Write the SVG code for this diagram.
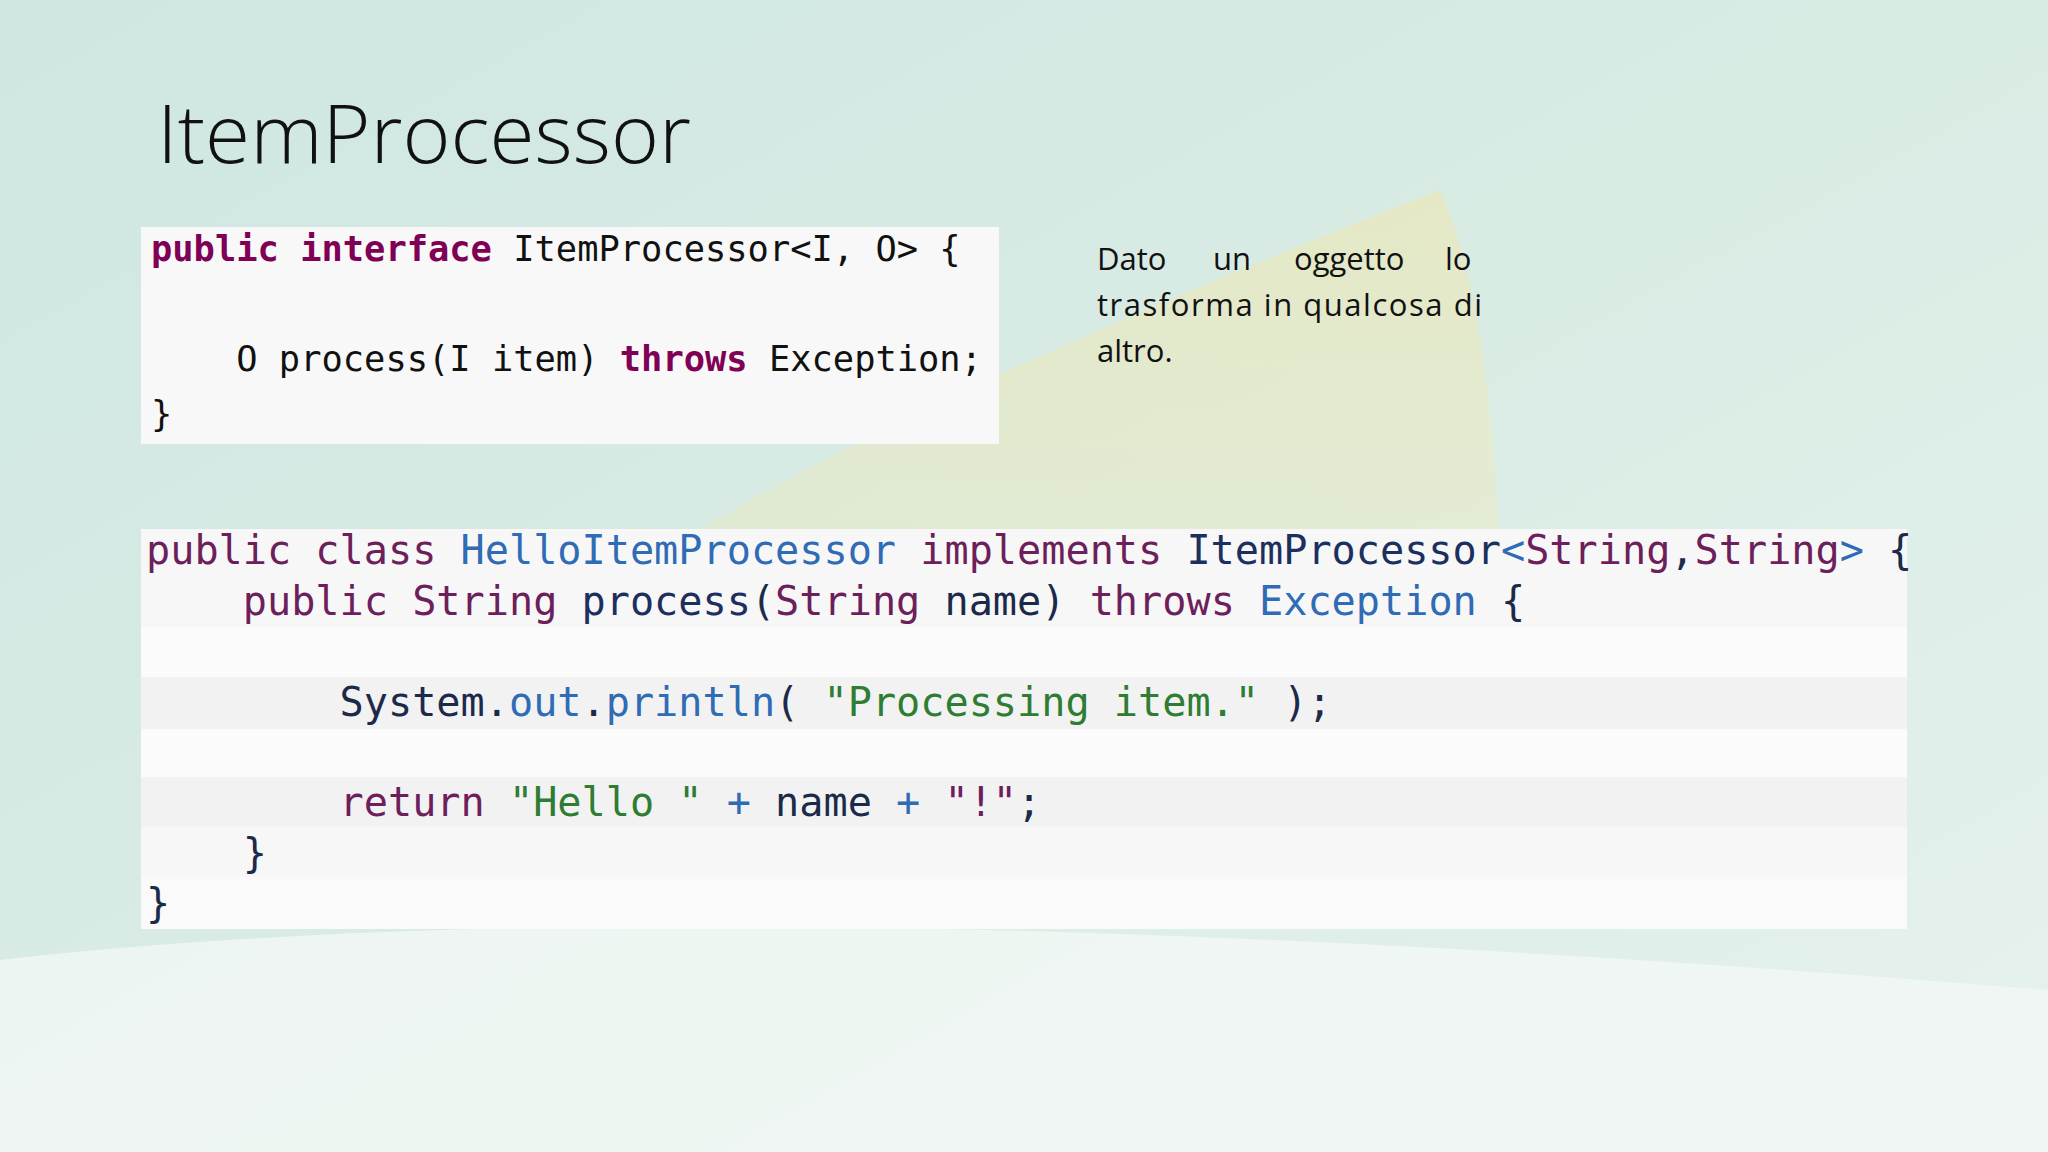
<svg xmlns="http://www.w3.org/2000/svg" width="2048" height="1152" viewBox="0 0 2048 1152">
<defs>
<linearGradient id="bg" x1="0" y1="0" x2="1" y2="1">
<stop offset="0" stop-color="#cfe6e2"/><stop offset="0.5" stop-color="#d9ece4"/><stop offset="1" stop-color="#e6f1ee"/>
</linearGradient>
<linearGradient id="leaf" x1="0" y1="0" x2="0" y2="1">
<stop offset="0" stop-color="#ede6b0" stop-opacity="0.6"/><stop offset="1" stop-color="#efe8b8" stop-opacity="0.35"/>
</linearGradient>
<style>
.code{font-family:"DejaVu Sans Mono","Liberation Mono",monospace;}
.c1{font-size:35.4px;fill:#111;}
.c2{font-size:40.2px;fill:#1c2a4a;}
.kw{fill:#7f0055;font-weight:bold;}
.pk{fill:#6d1f5c;}
.bl{fill:#2f6cb5;}
.nv{fill:#1c2f5e;}
.st{fill:#2e7d32;}
.txt{font-family:"Open Sans","Liberation Sans",sans-serif;font-size:31px;fill:#111;}
</style>
</defs>
<rect width="2048" height="1152" fill="url(#bg)"/>
<path d="M650 560 Q900 400 1440 190 Q1490 300 1500 560 Z" fill="url(#leaf)"/>
<path d="M0 960 Q700 880 2048 990 L2048 1152 L0 1152 Z" fill="#f2f7f5" opacity="0.8"/>
<text x="157" y="163" font-family="'Open Sans','Liberation Sans',sans-serif" font-weight="300" font-size="82" fill="#111">ItemProcessor</text>
<g id="box1">
<rect x="141" y="227" width="858" height="217" fill="#f8f8f8"/>
<text class="code c1" x="151" y="261" xml:space="preserve"><tspan class="kw">public</tspan> <tspan class="kw">interface</tspan> ItemProcessor&lt;I, O&gt; {</text>
<text class="code c1" x="151" y="371" xml:space="preserve">    O process(I item) <tspan class="kw">throws</tspan> Exception;</text>
<text class="code c1" x="151" y="426">}</text>
</g>
<g id="desc">
<text class="txt" y="270"><tspan x="1097">Dato</tspan><tspan x="1213">un</tspan><tspan x="1294">oggetto</tspan><tspan x="1445">lo</tspan></text>
<text class="txt" x="1097" y="316" textLength="385" lengthAdjust="spacing">trasforma in qualcosa di</text>
<text class="txt" x="1097" y="362">altro.</text>
</g>
<g id="box2">
<rect x="141" y="529" width="1766" height="400" fill="#f7f7f7"/>
<rect x="141" y="627" width="1766" height="50" fill="#fbfbfb"/>
<rect x="141" y="677" width="1766" height="52" fill="#f2f2f2"/>
<rect x="141" y="729" width="1766" height="48" fill="#fbfbfb"/>
<rect x="141" y="777" width="1766" height="50" fill="#f2f2f2"/>
<rect x="141" y="877" width="1766" height="52" fill="#fafafa"/>
<text class="code c2" x="146" y="564" xml:space="preserve"><tspan class="pk">public class</tspan> <tspan class="bl">HelloItemProcessor</tspan> <tspan class="pk">implements</tspan> <tspan class="nv">ItemProcessor</tspan><tspan class="bl">&lt;</tspan><tspan class="pk">String</tspan>,<tspan class="pk">String</tspan><tspan class="bl">&gt;</tspan> {</text>
<text class="code c2" x="146" y="615" xml:space="preserve">    <tspan class="pk">public</tspan> <tspan class="pk">String</tspan> <tspan class="nv">process</tspan>(<tspan class="pk">String</tspan> name) <tspan class="pk">throws</tspan> <tspan class="bl">Exception</tspan> {</text>
<text class="code c2" x="146" y="716" xml:space="preserve">        System.<tspan class="bl">out</tspan>.<tspan class="bl">println</tspan>( <tspan class="st">"Processing item."</tspan> );</text>
<text class="code c2" x="146" y="816" xml:space="preserve">        <tspan class="pk">return</tspan> <tspan class="st">"Hello "</tspan> <tspan class="bl">+</tspan> name <tspan class="bl">+</tspan> <tspan class="pk">"!"</tspan>;</text>
<text class="code c2" x="146" y="867" xml:space="preserve">    }</text>
<text class="code c2" x="146" y="917">}</text>
</g>
</svg>
